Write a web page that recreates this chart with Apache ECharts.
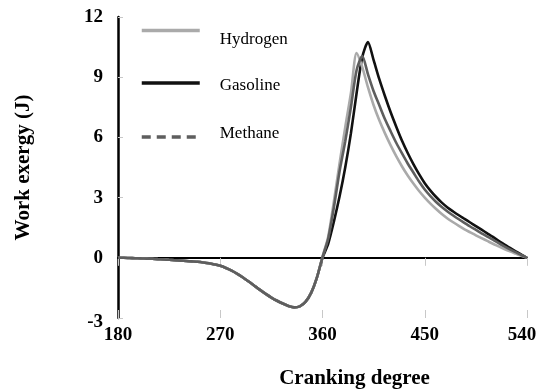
<!DOCTYPE html>
<html>
<head>
<meta charset="utf-8">
<script src="https://cdn.jsdelivr.net/npm/echarts@6/dist/echarts.min.js"></script>
<style>
  html, body { margin: 0; padding: 0; background: #fff; }
  #chart { width: 538px; height: 392px; }
</style>
</head>
<body>
<div id="chart"></div>
<script>
// Crank angle (degrees) sampled every 5 degrees
const degrees = [];
for (let d = 180; d <= 540; d += 5) degrees.push(d);

// Compression stroke, shared by all fuels (180..355)
const compression = [0, 0, -0.01, -0.02, -0.03, -0.04, -0.05, -0.065, -0.08, -0.1,
  -0.12, -0.14, -0.16, -0.18, -0.2, -0.23, -0.27, -0.33, -0.4, -0.51,
  -0.64, -0.8, -0.98, -1.18, -1.39, -1.6, -1.8, -1.98, -2.14, -2.28,
  -2.4, -2.47, -2.42, -2.2, -1.75, -1.0];

// Expansion stroke (360..540)
const hydrogenExp = [0.05, 1.05, 2.8, 4.7, 6.5, 8.2, 10.2, 9.5, 8.5, 7.6,
  6.85, 6.2, 5.6, 5.05, 4.55, 4.1, 3.7, 3.33, 3.0, 2.7,
  2.43, 2.18, 1.96, 1.77, 1.59, 1.42, 1.27, 1.12, 0.98, 0.84,
  0.7, 0.57, 0.44, 0.32, 0.21, 0.1, 0];
const gasolineExp = [0, 0.7, 1.8, 3.05, 4.5, 6.2, 8.2, 10.0, 10.75, 9.85,
  8.9, 8.05, 7.25, 6.52, 5.83, 5.22, 4.67, 4.17, 3.72, 3.35,
  3.03, 2.75, 2.51, 2.31, 2.12, 1.94, 1.76, 1.58, 1.4, 1.22,
  1.04, 0.85, 0.67, 0.49, 0.32, 0.16, 0];
const methaneExp = [0.03, 0.95, 2.5, 4.3, 5.8, 7.5, 9.35, 10.05, 9.15, 8.3,
  7.6, 6.9, 6.3, 5.72, 5.2, 4.7, 4.25, 3.8, 3.4, 3.07,
  2.78, 2.53, 2.31, 2.11, 1.92, 1.74, 1.56, 1.39, 1.22, 1.06,
  0.9, 0.73, 0.57, 0.42, 0.28, 0.14, 0];

const yTicks = [-3, 0, 3, 6, 9, 12];
const xTicks = [180, 270, 360, 450, 540];

function pairs(values) {
  const all = compression.concat(values);
  return degrees.map((d, i) => [d, all[i]]);
}

const serif = '"Liberation Serif", "Times New Roman", serif';
const tickFont = { fontFamily: serif, fontSize: 19, fontWeight: 'bold', color: '#000' };
const chart = echarts.init(document.getElementById('chart'), null, { renderer: 'canvas' });

const lineSeries = (name, values, color, z) => ({
  name: name,
  type: 'line',
  xAxisIndex: 0,
  yAxisIndex: 0,
  data: pairs(values),
  showSymbol: false,
  symbol: 'none',
  smooth: 0.25,
  z: z,
  lineStyle: { color: color, width: 2.6 },
  itemStyle: { color: color }
});

// one legend block per fuel; a thin spacer line nudges each label up or down
const legendBlock = (name, top, color, dash, above, below) => ({
  orient: 'vertical',
  left: 140,
  top: top,
  padding: 0,
  itemWidth: 58,
  itemHeight: 14,
  itemStyle: { color: 'transparent', borderWidth: 0, opacity: 0 },
  formatter: (n) => (above ? '{s| }\n' : '') + '{t|' + n + '}' + (below ? '\n{s2| }' : ''),
  textStyle: {
    fontFamily: serif, fontSize: 17, color: '#000', padding: [0, 0, 0, 15],
    rich: {
      t: { fontFamily: serif, fontSize: 17, color: '#000', lineHeight: 18 },
      s: { fontSize: 1, lineHeight: above || 1 },
      s2: { fontSize: 1, lineHeight: below || 1 }
    }
  },
  data: [{ name: name, lineStyle: { color: color, width: 3.5, type: dash } }]
});

chart.setOption({
  animation: false,
  backgroundColor: '#fff',
  grid: { left: 118, right: 11, top: 17, bottom: 74, containLabel: false, outerBoundsMode: 'none' },
  legend: [
    legendBlock('Hydrogen', 21, '#aaaaaa', 'solid', 18, 0),
    legendBlock('Gasoline', 73.5, '#111111', 'solid', 6, 0),
    legendBlock('Methane', 125.5, '#5e5e5e', [9, 6], 0, 6)
  ],
  xAxis: [
    {
      type: 'value', min: xTicks[0], max: xTicks[xTicks.length - 1], interval: 90,
      position: 'bottom',
      axisLine: { show: false, onZero: false },
      axisTick: { show: false },
      splitLine: { show: false },
      axisLabel: Object.assign({}, tickFont, {
        margin: 8,
        // the last label is pulled in a little so it stays inside the frame
        formatter: (v) => (v === xTicks[xTicks.length - 1] ? '{r|' + v + '}' : String(v)),
        rich: { r: Object.assign({}, tickFont, { padding: [0, 10, 0, 0] }) }
      }),
      name: 'Cranking degree',
      nameLocation: 'middle',
      nameGap: 50,
      nameTextStyle: { fontFamily: serif, fontSize: 21, fontWeight: 'bold', color: '#000', padding: [0, 0, 0, 64] }
    },
    {
      type: 'value', min: xTicks[0], max: xTicks[xTicks.length - 1], interval: 90,
      position: 'bottom',
      axisLine: { show: true, onZero: true, lineStyle: { color: '#000', width: 2 } },
      axisTick: { show: true, inside: false, length: 8, lineStyle: { color: '#c8c8c8', width: 1 } },
      axisLabel: { show: false },
      splitLine: { show: false }
    },
    {
      type: 'value', min: xTicks[0], max: xTicks[xTicks.length - 1], interval: 90,
      position: 'bottom',
      axisLine: { show: false, onZero: true },
      axisTick: { show: true, inside: true, length: 8, lineStyle: { color: '#c8c8c8', width: 1 } },
      axisLabel: { show: false },
      splitLine: { show: false }
    }
  ],
  yAxis: {
    type: 'value', min: yTicks[0], max: yTicks[yTicks.length - 1], interval: 3,
    axisLine: { show: true, onZero: false, lineStyle: { color: '#000', width: 2.5 } },
    axisTick: { show: true, inside: true, length: 5, lineStyle: { color: '#c8c8c8', width: 1 } },
    splitLine: { show: false },
    axisLabel: Object.assign({}, tickFont, {
      margin: 15,
      // the bottom label sits slightly below its tick
      formatter: (v) => (v === yTicks[0] ? '{d|' + v + '}' : String(v)),
      rich: { d: Object.assign({}, tickFont, { padding: [8, 0, 0, 0] }) }
    }),
    name: 'Work exergy (J)',
    nameLocation: 'middle',
    nameGap: 84,
    nameTextStyle: { fontFamily: serif, fontSize: 21, fontWeight: 'bold', color: '#000' }
  },
  series: [
    lineSeries('Gasoline', gasolineExp, '#111111', 2),
    lineSeries('Hydrogen', hydrogenExp, '#aaaaaa', 3),
    lineSeries('Methane', methaneExp, '#5e5e5e', 4)
  ]
});
</script>
</body>
</html>
